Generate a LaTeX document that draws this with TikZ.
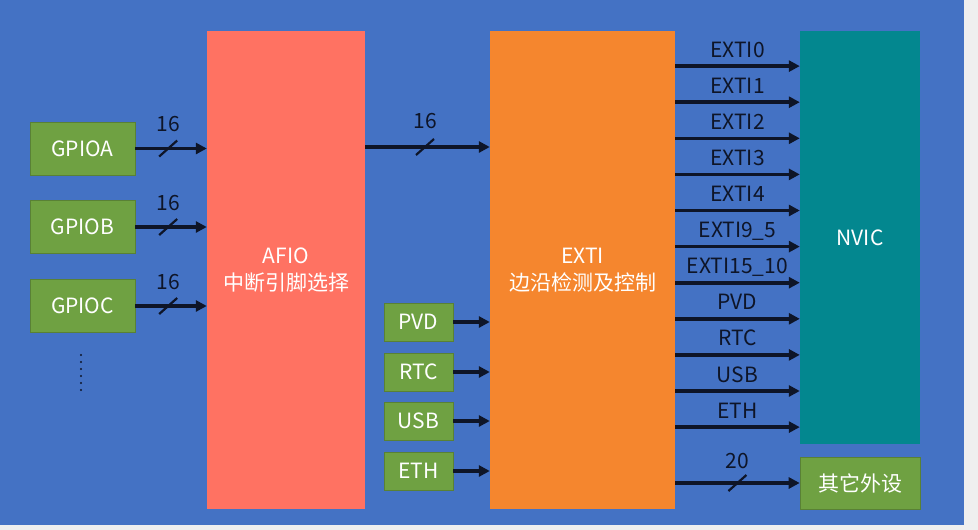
\documentclass[tikz,border=0pt]{standalone}
\usepackage{fontspec}
\setmainfont{Noto Sans CJK SC}
\usepackage{tikz}
\usetikzlibrary{arrows.meta,calc}
\usepackage{xcolor}
\definecolor{pagegrey}{HTML}{EFEFEF}
\definecolor{bgblue}{HTML}{4472C4}
\definecolor{srcgreen}{HTML}{6FA142}
\definecolor{afiored}{HTML}{FF7262}
\definecolor{extiorange}{HTML}{F5862E}
\definecolor{nvicteal}{HTML}{03878F}
\definecolor{ink}{HTML}{0E1528}

\begin{document}
\begin{tikzpicture}[
  x=1pt,y=-1pt,
  >={Triangle[length=11pt,width=11pt]},
  every node/.style={font=\fontsize{21}{27}\selectfont,inner sep=0pt,align=center},
  blk/.style={fill=#1,text=white},
  src/.style={fill=srcgreen,draw=srcgreen!80!black,line width=0.6pt,text=white},
  sig/.style={->,line width=3.6pt,ink},
  tick/.style={line width=2.2pt,ink},
  lbl/.style={text=ink,anchor=base}
]
\useasboundingbox (0,0) rectangle (978,530);
\fill[pagegrey] (0,0) rectangle (978,530);
\fill[bgblue] (0,0) rectangle (964,525);

\node[blk=afiored,minimum width=158pt,minimum height=478pt] (afio) at (286,270) {AFIO\\中断引脚选择};
\node[blk=extiorange,minimum width=185pt,minimum height=478pt] (exti) at (582.5,270) {EXTI\\边沿检测及控制};
\node[blk=nvicteal,minimum width=120pt,minimum height=413pt] (nvic) at (860,237.5) {NVIC};
\node[src,minimum width=120pt,minimum height=52pt] (other) at (860,483) {其它外设};

\foreach \n/\t/\y in {gpioa/GPIOA/148.5,gpiob/GPIOB/227,gpioc/GPIOC/306} {
  \node[src,minimum width=105pt,minimum height=53pt] (\n) at (82.5,\y) {\t};
  \draw[sig] (\n) -- coordinate[pos=.46] (s) (afio.west |- \n);
  \draw[tick] ($(s)+(-9,8)$) -- ($(s)+(9,-8)$);
  \node[lbl,yshift=17pt] at (s) {16};
}
\foreach \k in {0,...,5}
  \fill[ink] (81,{355+7*\k}) circle (1.2pt);

\coordinate (mid) at (0,147);
\draw[sig] (afio.east |- mid) -- coordinate[pos=.48] (s) (exti.west |- mid);
\draw[tick] ($(s)+(-9,8)$) -- ($(s)+(9,-8)$);
\node[lbl,yshift=19pt] at (s) {16};

\foreach \n/\t/\y in {pvd/PVD/322,rtc/RTC/372,usb/USB/421,eth/ETH/471} {
  \node[src,minimum width=69pt,minimum height=38pt] (\n) at (418.5,\y) {\t};
  \draw[sig] (\n) -- (exti.west |- \n);
}

\foreach \t [count=\i] in {EXTI0,EXTI1,EXTI2,EXTI3,EXTI4,EXTI9\_5,EXTI15\_10,PVD,RTC,USB,ETH} {
  \coordinate (o\i) at (0,{30+36.1*\i});
  \draw[sig] (exti.east |- o\i) -- node[lbl,yshift=9pt] {\t} (nvic.west |- o\i);
}

\draw[sig] (exti.east |- other) -- coordinate (s) (other);
\draw[tick] ($(s)+(-9,8)$) -- ($(s)+(9,-8)$);
\node[lbl,yshift=15pt] at (s) {20};
\end{tikzpicture}
\end{document}
